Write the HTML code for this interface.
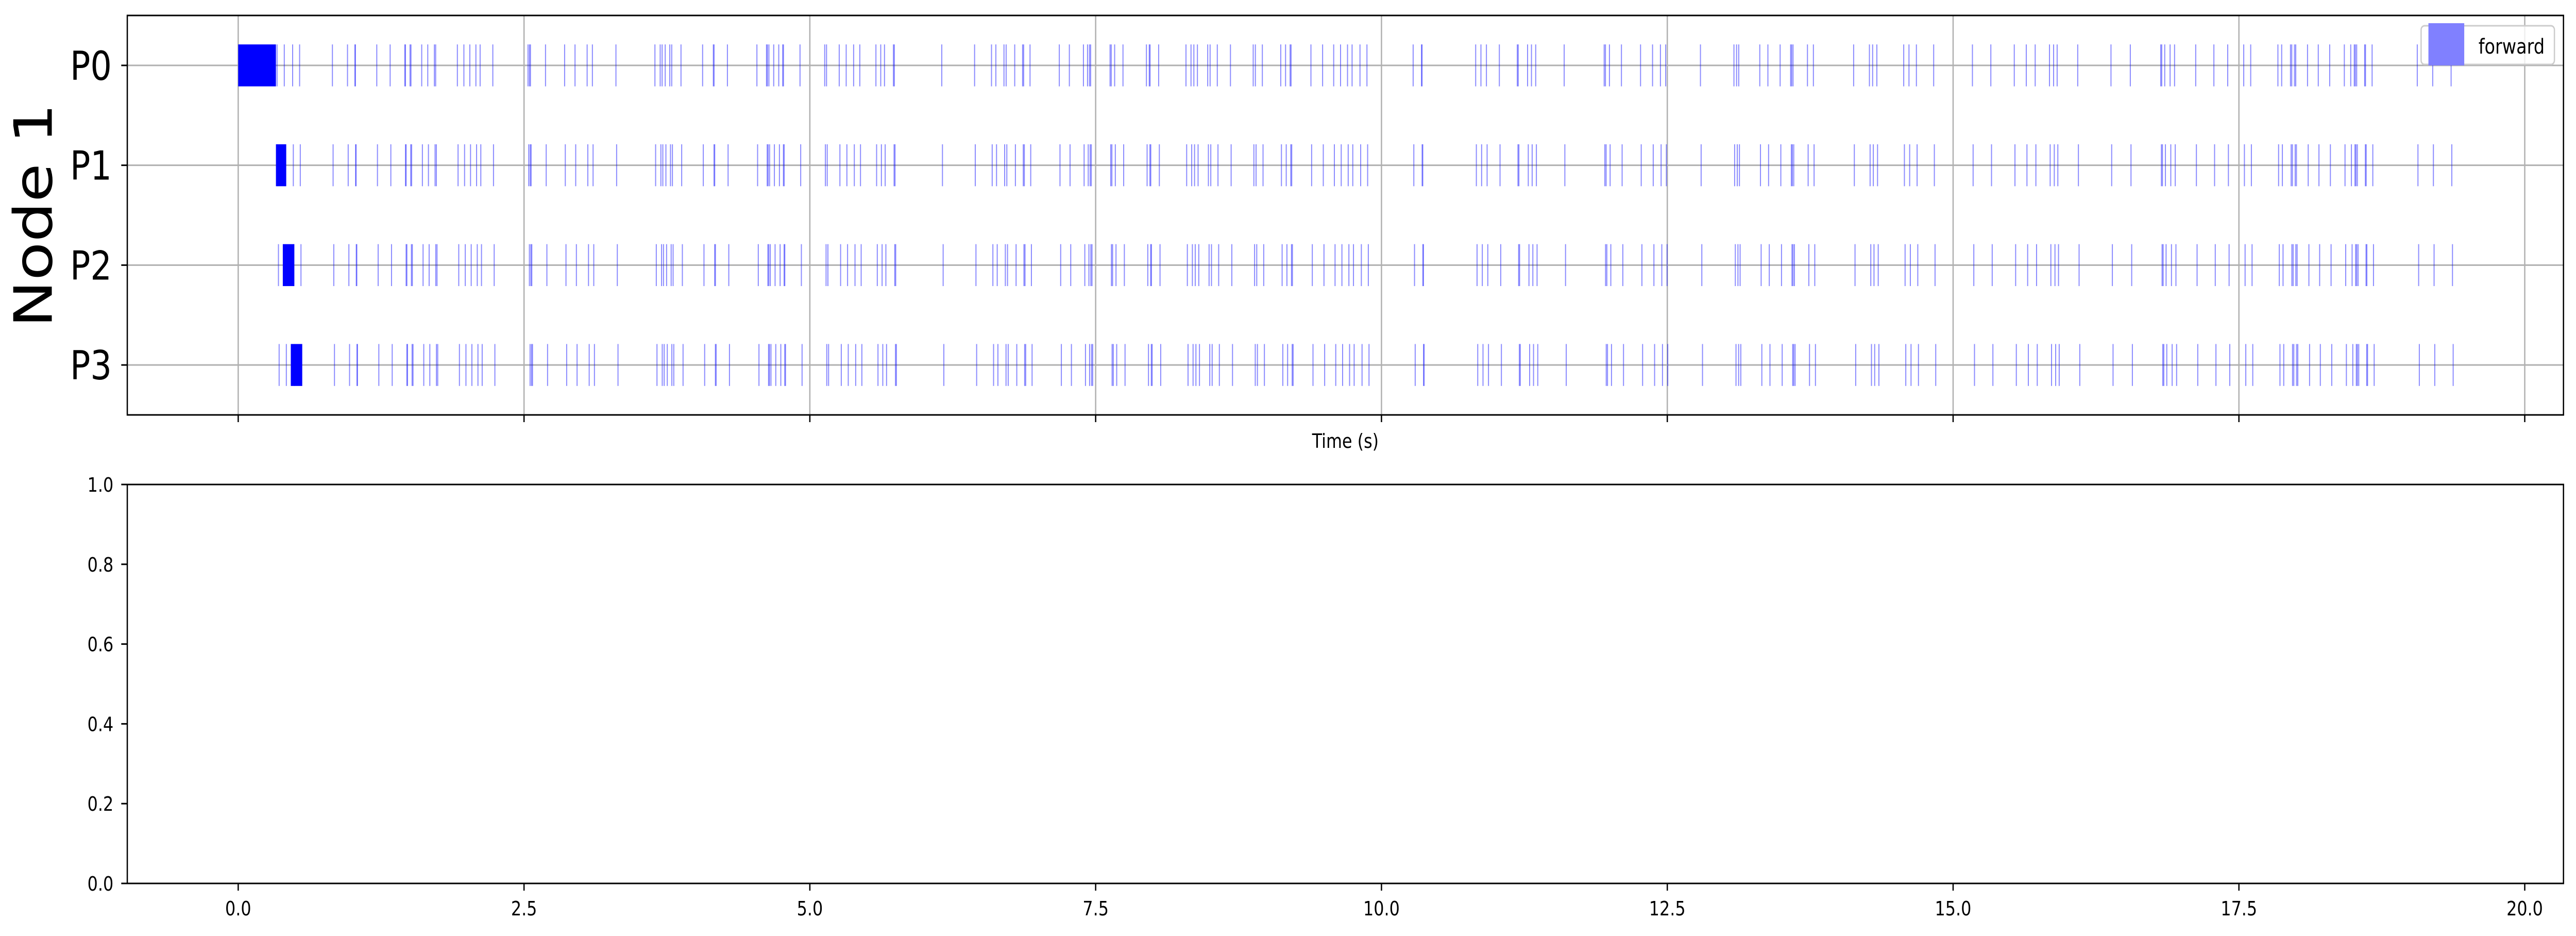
<!DOCTYPE html>
<html><head><meta charset="utf-8">
<style>
html,body{margin:0;padding:0;background:#fff;overflow:hidden;width:100%;height:100%;}
svg{display:block;width:100vw;height:100vh;font-family:"DejaVu Sans","Liberation Sans",sans-serif;}
</style></head>
<body>
<svg id="chart" viewBox="0 0 5970 1816" preserveAspectRatio="none" xmlns="http://www.w3.org/2000/svg">
<rect x="0" y="0" width="5970" height="1816" fill="#fff"/>
<g id="topAxes"></g>
<g id="bottomAxes"></g>
</svg>
<script>
// ---- data ----
const processes = ["P0","P1","P2","P3"];
const blockStart = [0.0, 0.33, 0.39, 0.46];
const blockEnd = [0.33, 0.42, 0.49, 0.56];
const rowLag = [0.0, 0.006, 0.012, 0.018];
const events = [0.340,0.403,0.476,0.537,0.824,0.956,1.021,1.025,1.212,1.329,1.457,1.463,1.503,1.511,1.605,1.658,1.716,1.727,1.917,1.974,2.026,2.079,2.116,2.227,2.535,2.548,2.556,2.688,2.855,2.946,3.052,3.098,3.304,
3.645,3.691,3.708,3.735,3.775,3.792,3.873,4.062,4.156,4.162,4.279,4.537,4.621,4.629,4.642,4.684,4.728,4.763,4.769,4.914,5.130,5.146,5.257,5.318,5.383,5.437,5.578,5.620,5.653,5.731,5.739,6.154,6.441,6.589,6.627,6.698,
6.717,6.792,6.861,6.870,6.926,7.182,7.270,7.393,7.429,7.446,7.456,7.626,7.636,7.666,7.739,7.944,7.969,7.976,8.051,8.290,8.334,8.359,8.390,8.480,8.501,8.564,8.679,8.878,8.897,8.958,9.119,9.161,9.201,9.209,9.383,9.485,9.582,9.642,9.703,9.743,9.812,9.873,
10.277,10.350,10.355,10.824,10.870,10.918,11.031,11.188,11.196,11.278,11.312,11.349,11.598,11.948,11.959,11.994,12.099,12.266,12.371,12.440,12.486,12.790,13.083,13.106,13.125,
13.309,13.380,13.487,13.579,13.588,13.600,13.726,13.778,14.130,14.268,14.296,14.333,14.568,14.614,14.679,14.830,15.169,15.330,15.535,15.640,15.718,15.843,15.879,15.910,16.090,16.381,16.550,
16.816,16.825,16.851,16.898,16.937,17.122,17.281,17.402,17.542,17.603,17.841,17.874,17.951,17.962,17.986,17.997,18.100,18.194,18.294,18.422,18.478,18.509,18.518,18.530,18.600,18.607,18.665,19.060,19.195,19.356];
const xTicks = [0,2.5,5,7.5,10,12.5,15,17.5,20];
const xTickLabels = ["0.0","2.5","5.0","7.5","10.0","12.5","15.0","17.5","20.0"];
const yTicks = [0,0.2,0.4,0.6,0.8,1.0];
const yTickLabels = ["0.0","0.2","0.4","0.6","0.8","1.0"];

// ---- layout ----
const NS="http://www.w3.org/2000/svg";
const L=295,R=5941;
const xMin=-0.9702,xMax=20.3389;
const X=t=>L+(t-xMin)/(xMax-xMin)*(R-L);
const T0=30,T1=805;
const Y=i=>T0+(i+0.5)/4*(T1-T0);
const B0=940,B1=1714;
const YB=v=>B1-v*(B1-B0);
function mk(tag,attrs,parent){const e=document.createElementNS(NS,tag);for(const k in attrs)e.setAttribute(k,attrs[k]);parent.appendChild(e);return e;}
const topG=document.getElementById('topAxes');
const botG=document.getElementById('bottomAxes');

xTicks.forEach(t=>{
  const g=mk('line',{x1:X(t),x2:X(t),y1:T0,y2:T1,stroke:'#b0b0b0','stroke-width':3},topG);
  
  
});
processes.forEach((p,i)=>{
  const g=mk('line',{x1:L,x2:R,y1:Y(i),y2:Y(i),stroke:'#b0b0b0','stroke-width':3},topG);
  
  
});
const barH=0.42*(T1-T0)/4;
processes.forEach((p,i)=>{
  const row=mk('g',{},topG);
  
  
  const b=mk('rect',{x:X(blockStart[i]),y:Y(i)-barH/2,width:X(blockEnd[i])-X(blockStart[i]),height:barH,fill:'#0000ff'},row);
  
  
  events.forEach(t=>{
    const r=mk('rect',{x:X(t+rowLag[i])-1.2,y:Y(i)-barH/2,width:2.4,height:barH,fill:'#0000ff','fill-opacity':0.45},row);
    
    
  });
});
const f1=mk('rect',{x:L,y:T0,width:R-L,height:T1-T0,fill:'none',stroke:'#000','stroke-width':3},topG);


xTicks.forEach(t=>{
  const k=mk('line',{x1:X(t),x2:X(t),y1:T1,y2:T1+14,stroke:'#000','stroke-width':3},topG);
  
  
});
processes.forEach((p,i)=>{
  const k=mk('line',{x1:L-14,x2:L,y1:Y(i),y2:Y(i),stroke:'#000','stroke-width':3},topG);
  
  
  const tx=mk('text',{x:259,y:Y(i)+28,'text-anchor':'end','font-size':78,fill:'#000'},topG);
  tx.textContent=p;
  
  
});
const nl=mk('text',{x:0,y:0,'text-anchor':'middle','font-size':122,fill:'#000',transform:'translate(120,418) rotate(-90)'},topG);
nl.textContent='Node 1';


const xl=mk('text',{x:(L+R)/2,y:869,'text-anchor':'middle','font-size':38,fill:'#000'},topG);
xl.textContent='Time (s)';


const lg=mk('g',{},topG);


mk('rect',{x:5611,y:50,width:309,height:75,rx:8,fill:'#fff','fill-opacity':0.8,stroke:'#cccccc','stroke-width':3},lg);
const sw=mk('rect',{x:5628,y:45,width:83,height:82,fill:'#8080ff'},lg);


const lt=mk('text',{x:5744,y:104,'font-size':40,fill:'#000'},lg);
lt.textContent='forward';



const f2=mk('rect',{x:L,y:B0,width:R-L,height:B1-B0,fill:'none',stroke:'#000','stroke-width':3},botG);


xTicks.forEach((t,j)=>{
  const k=mk('line',{x1:X(t),x2:X(t),y1:B1,y2:B1+14,stroke:'#000','stroke-width':3},botG);
  
  
  const tx=mk('text',{x:X(t),y:1776,'text-anchor':'middle','font-size':38,fill:'#000'},botG);
  tx.textContent=xTickLabels[j];
  
  
});
yTicks.forEach((v,j)=>{
  const k=mk('line',{x1:L-14,x2:L,y1:YB(v),y2:YB(v),stroke:'#000','stroke-width':3},botG);
  
  
  const tx=mk('text',{x:263,y:YB(v)+14,'text-anchor':'end','font-size':38,fill:'#000'},botG);
  tx.textContent=yTickLabels[j];
  
  
});
</script>
</body></html>
